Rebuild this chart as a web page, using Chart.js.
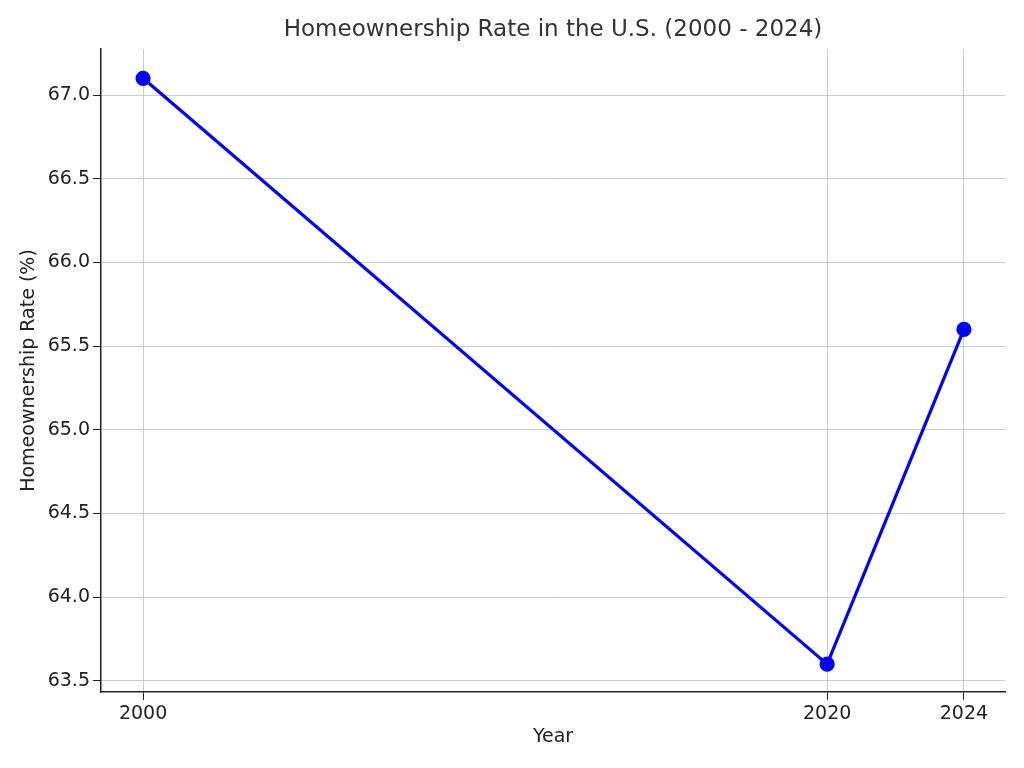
<!DOCTYPE html>
<html>
<head>
<meta charset="UTF-8"/>
<script src="https://cdn.jsdelivr.net/npm/chart.js@4/dist/chart.umd.min.js"></script>
<style>body{margin:0;background:#fff}</style>
</head>
<body>
<canvas id="chart" width="1024" height="768"></canvas>
<script>
const years = [2000, 2020, 2024];
const rates = [67.1, 63.6, 65.6];
const yTicks = [63.5, 64.0, 64.5, 65.0, 65.5, 66.0, 66.5, 67.0];
const titleText = 'Homeownership Rate in the U.S. (2000 - 2024)';

const font = 'DejaVu Sans';

// title centred over the plot area, like the reference
const titlePlugin = {
    id: 'areaTitle',
    afterDraw(chart) {
        const c = chart.ctx, a = chart.chartArea;
        c.save();
        c.font = '23px "' + font + '"';
        c.fillStyle = '#333';
        c.textAlign = 'center';
        c.textBaseline = 'middle';
        c.fillText(titleText, (a.left + a.right) / 2, 30);
        c.restore();
    }
};

const ctx = document.getElementById('chart').getContext('2d');
new Chart(ctx, {
    type: 'line',
    data: {
        datasets: [{
            data: years.map((y, i) => ({x: y, y: rates[i]})),
            borderColor: '#0000ff',
            backgroundColor: '#0000ff',
            borderWidth: 3.2,
            pointRadius: 6,
            pointHoverRadius: 6,
            tension: 0
        }]
    },
    plugins: [titlePlugin],
    options: {
        responsive: false,
        animation: false,
        layout: {padding: {left: 14, right: 19, top: 49, bottom: 16}},
        plugins: {
            legend: {display: false},
            tooltip: {enabled: false},
            title: {display: false}
        },
        scales: {
            x: {
                type: 'linear',
                min: 1998.77,
                max: 2025.2,
                afterBuildTicks: axis => { axis.ticks = years.map(v => ({value: v})); },
                afterFit: axis => { axis.height = 60; },
                ticks: {
                    color: '#222',
                    font: {family: font, size: 19},
                    callback: v => String(v)
                },
                grid: {color: '#ccc', borderDash: [4, 3], tickLength: 8, tickColor: '#222'},
                border: {color: '#222', width: 1.5},
                title: {display: true, text: 'Year', color: '#222', font: {family: font, size: 19}, padding: {top: 0}}
            },
            y: {
                min: 63.434,
                max: 67.275,
                afterBuildTicks: axis => { axis.ticks = yTicks.map(v => ({value: v})); },
                afterFit: axis => { axis.width = 87; },
                ticks: {
                    color: '#222',
                    font: {family: font, size: 19},
                    callback: v => v.toFixed(1)
                },
                grid: {color: '#ccc', borderDash: [4, 3], tickLength: 8, tickColor: '#222'},
                border: {color: '#222', width: 1.5},
                title: {display: true, text: 'Homeownership Rate (%)', color: '#222', font: {family: font, size: 19}, padding: {bottom: 4}}
            }
        }
    }
});
</script>
</body>
</html>
